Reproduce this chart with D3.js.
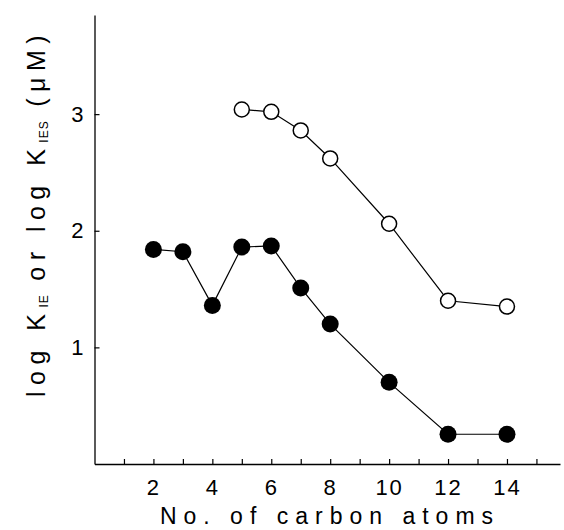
<!DOCTYPE html>
<html>
<head>
<meta charset="utf-8">
<script src="https://cdn.jsdelivr.net/npm/d3@7"></script>
<style>
body { margin: 0; background: #fff; }
text { font-family: Arial, "Liberation Sans", sans-serif; fill: #000; }
</style>
</head>
<body>
<script>
//Width and height
var width = 564;
var height = 530;

//Data
var carbonsIE = [2, 3, 4, 5, 6, 7, 8, 10, 12, 14];
var logKIE = [1.84, 1.82, 1.36, 1.86, 1.87, 1.51, 1.20, 0.70, 0.255, 0.255];
var carbonsIES = [5, 6, 7, 8, 10, 12, 14];
var logKIES = [3.04, 3.02, 2.86, 2.62, 2.06, 1.40, 1.35];
var xTicks = [1, 2, 3, 4, 5, 6, 7, 8, 9, 10, 11, 12, 13, 14, 15];
var yTicks = [1, 2, 3];

var svg = d3.select("body")
			.append("svg")
			.attr("width", width)
			.attr("height", height);

var x = d3.scaleLinear().domain([0, 15.8]).range([94.5, 560]);
var y = d3.scaleLinear().domain([0, 3.85]).range([464, 15]);

//Axes, ticks pointing inward
var xAxis = d3.axisBottom(x)
	.tickValues(xTicks)
	.tickSizeInner(-5)
	.tickSizeOuter(0)
	.tickPadding(15)
	.tickFormat(function(d) { return d % 2 == 0 ? d : ""; });

var yAxis = d3.axisLeft(y)
	.tickValues(yTicks)
	.tickSizeInner(-5)
	.tickSizeOuter(0)
	.tickPadding(11)
	.tickFormat(d3.format("d"));

var gx = svg.append("g")
	.attr("transform", "translate(0," + y(0) + ")")
	.call(xAxis);

var gy = svg.append("g")
	.attr("transform", "translate(" + x(0) + ",0)")
	.call(yAxis);

svg.selectAll(".domain").attr("stroke", "#000").attr("stroke-width", 1.3);
svg.selectAll(".tick line").attr("stroke", "#000").attr("stroke-width", 1.2);
gx.attr("font-size", 22);
gy.attr("font-size", 22);
svg.selectAll(".tick text")
	.attr("font-family", "Arial, 'Liberation Sans', sans-serif");
gx.selectAll(".tick text").style("letter-spacing", "2px");

//Axis titles
svg.append("text")
	.attr("x", 330)
	.attr("y", 524)
	.attr("text-anchor", "middle")
	.style("font-size", "23px")
	.style("letter-spacing", "7px")
	.text("No. of carbon atoms");

var yl = svg.append("text")
	.attr("transform", "translate(45,213) rotate(-90)")
	.attr("text-anchor", "middle")
	.style("font-size", "25px")
	.style("letter-spacing", "6.5px");
yl.append("tspan").text("log K");
yl.append("tspan").attr("dy", 3).style("font-size", "12px").style("letter-spacing", "1px").text("IE");
yl.append("tspan").attr("dy", -3).text(" or log K");
yl.append("tspan").attr("dy", 3).style("font-size", "12px").style("letter-spacing", "1px").text("IES");
yl.append("tspan").attr("dy", -3).text(" (\u03BCM)");

var line = d3.line()
	.x(function(d) { return x(d[0]); })
	.y(function(d) { return y(d[1]); });

var ieData = d3.zip(carbonsIE, logKIE);
var iesData = d3.zip(carbonsIES, logKIES);

svg.append("path")
	.datum(iesData)
	.attr("d", line)
	.attr("fill", "none")
	.attr("stroke", "#000")
	.attr("stroke-width", 1.2);

svg.append("path")
	.datum(ieData)
	.attr("d", line)
	.attr("fill", "none")
	.attr("stroke", "#000")
	.attr("stroke-width", 1.2);

svg.selectAll("circle.ies")
	.data(iesData)
	.enter()
	.append("circle")
	.attr("class", "ies")
	.attr("cx", function(d) { return x(d[0]); })
	.attr("cy", function(d) { return y(d[1]); })
	.attr("r", 7.5)
	.attr("fill", "#fff")
	.attr("stroke", "#000")
	.attr("stroke-width", 1.5);

svg.selectAll("circle.ie")
	.data(ieData)
	.enter()
	.append("circle")
	.attr("class", "ie")
	.attr("cx", function(d) { return x(d[0]); })
	.attr("cy", function(d) { return y(d[1]); })
	.attr("r", 8.5)
	.attr("fill", "#000");
</script>
</body>
</html>
